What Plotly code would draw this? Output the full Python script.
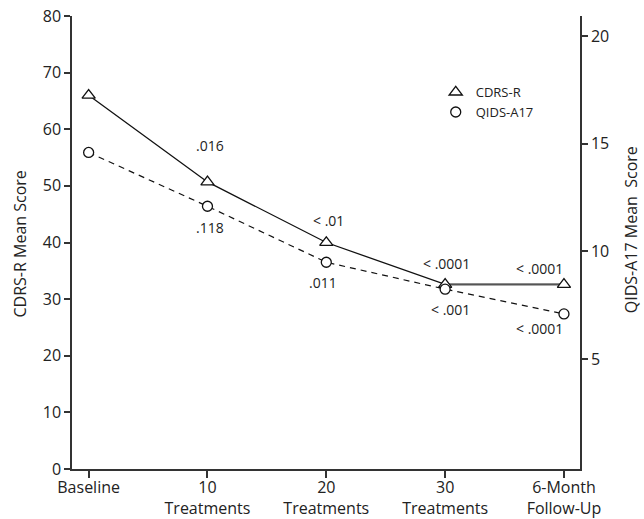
import plotly.graph_objects as go

# ---- data ----
categories = ["Baseline", "10<br>Treatments", "20<br>Treatments", "30<br>Treatments", "6-Month<br>Follow-Up"]
cdrs_r = [66.0, 50.7, 40.0, 32.6, 32.6]          # left axis
qids_a17 = [14.6, 12.1, 9.5, 8.25, 7.1]          # right axis
cdrs_p = ["", ".016", "< .01", "< .0001", "< .0001"]
qids_p = ["", ".118", ".011", "< .001", "< .0001"]
left_ticks = [0, 10, 20, 30, 40, 50, 60, 70, 80]
right_ticks = [5, 10, 15, 20]

FONT = "Open Sans"
AX = "#333333"
TXT = "#222222"

fig = go.Figure()

# CDRS-R line
fig.add_trace(go.Scatter(
    x=categories, y=cdrs_r, mode="lines", yaxis="y",
    line=dict(color="#111111", width=1.3), showlegend=False, hoverinfo="skip"))
# final plateau segment drawn slightly heavier / greyer as in the reference
fig.add_trace(go.Scatter(
    x=categories[3:], y=cdrs_r[3:], mode="lines", yaxis="y",
    line=dict(color="#555555", width=2), showlegend=False, hoverinfo="skip"))
fig.add_trace(go.Scatter(
    x=categories, y=cdrs_r, mode="markers", yaxis="y", name="CDRS-R",
    marker=dict(symbol="triangle-up", size=11.5, color="white",
                line=dict(color="#111111", width=1.3)),
    showlegend=False))

# QIDS-A17 line (right axis)
fig.add_trace(go.Scatter(
    x=categories, y=qids_a17, mode="lines+markers", yaxis="y2", name="QIDS-A17",
    line=dict(color="#111111", width=1.2, dash="6px,5px"),
    marker=dict(symbol="circle", size=10, color="white",
                line=dict(color="#111111", width=1.3)),
    showlegend=False))

# legend-only entries (symbols only)
fig.add_trace(go.Scatter(
    x=[None], y=[None], mode="markers", name="CDRS-R",
    marker=dict(symbol="triangle-up", size=11.5, color="white",
                line=dict(color="#111111", width=1.3))))
fig.add_trace(go.Scatter(
    x=[None], y=[None], mode="markers", name="QIDS-A17",
    marker=dict(symbol="circle", size=10, color="white",
                line=dict(color="#111111", width=1.3))))

# p-value annotations
cdrs_off = [(0, 0), (3, 36), (2, 22), (1, 21), (-24, 16)]
qids_off = [(0, 0), (3, -21), (-3, -20), (5, -20), (-24, -15)]
annotations = []
for i, cat in enumerate(categories):
    if cdrs_p[i]:
        annotations.append(dict(x=cat, y=cdrs_r[i], xref="x", yref="y", text=cdrs_p[i],
                                showarrow=False, xshift=cdrs_off[i][0], yshift=cdrs_off[i][1],
                                font=dict(family=FONT, size=14, color=TXT)))
    if qids_p[i]:
        annotations.append(dict(x=cat, y=qids_a17[i], xref="x", yref="y2", text=qids_p[i],
                                showarrow=False, xshift=qids_off[i][0], yshift=qids_off[i][1],
                                font=dict(family=FONT, size=14, color=TXT)))

# axis titles
annotations.append(dict(x=-0.102, y=0.496, xref="paper", yref="paper", text="CDRS-R Mean Score",
                        xanchor="center", yanchor="middle",
                        textangle=-90, showarrow=False, font=dict(family=FONT, size=16, color=TXT)))
annotations.append(dict(x=1.102, y=0.529, xref="paper", yref="paper", text="QIDS-A17 Mean  Score",
                        xanchor="center", yanchor="middle",
                        textangle=-90, showarrow=False, font=dict(family=FONT, size=16, color=TXT)))

fig.update_layout(
    width=644, height=519,
    margin=dict(l=72, r=64, t=16, b=50, autoexpand=False),
    paper_bgcolor="white", plot_bgcolor="white",
    font=dict(family=FONT, size=16, color=TXT),
    showlegend=True,
    legend=dict(x=0.716, y=0.865, xanchor="left", yanchor="top",
                font=dict(family=FONT, size=13, color=TXT),
                bgcolor="rgba(0,0,0,0)", tracegroupgap=0, itemwidth=30),
    xaxis=dict(type="category", range=[-0.14, 4.135], showgrid=False, zeroline=False,
               automargin=False, ticklabelstandoff=-4,
               showline=True, linecolor=AX, linewidth=1.5,
               ticks="outside", ticklen=7, tickwidth=1.5, tickcolor=AX,
               tickfont=dict(family=FONT, size=16, color=TXT)),
    yaxis=dict(range=[0, 80], tickvals=left_ticks, showgrid=False, zeroline=False,
               automargin=False,
               showline=True, linecolor=AX, linewidth=1.5,
               ticks="outside", ticklen=6, tickwidth=1.5, tickcolor=AX,
               tickfont=dict(family=FONT, size=16, color=TXT)),
    yaxis2=dict(range=[-0.107, 20.94], tickvals=right_ticks, overlaying="y", side="right",
                automargin=False,
                showgrid=False, zeroline=False,
                showline=True, linecolor=AX, linewidth=1.5,
                ticks="outside", ticklen=6, tickwidth=1.5, tickcolor=AX,
                tickfont=dict(family=FONT, size=16, color=TXT)),
    annotations=annotations,
)

fig.write_html("out.html",
               config={"displayModeBar": False},
               post_script="document.body.style.margin='0';document.body.style.padding='0';")
